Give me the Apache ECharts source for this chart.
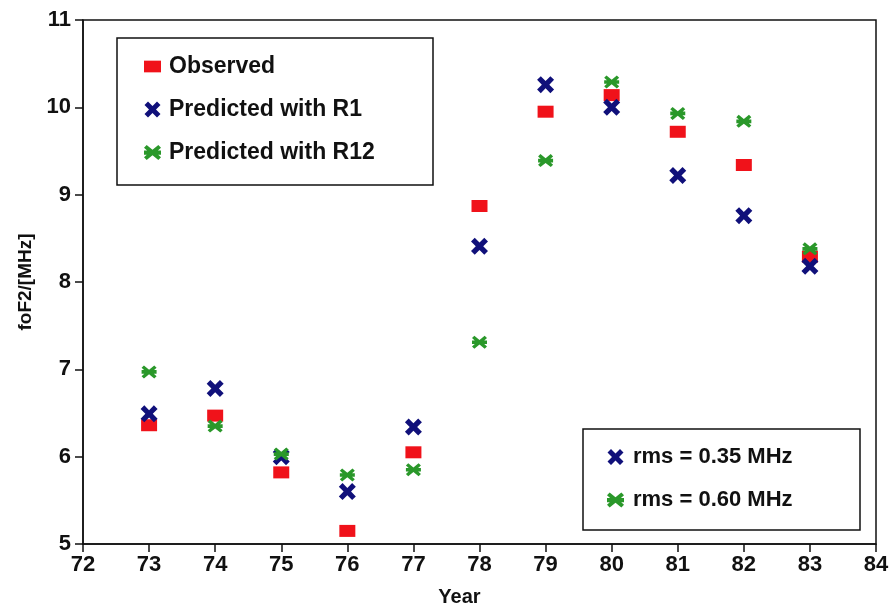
<!DOCTYPE html>
<html>
<head>
<meta charset="utf-8">
<script src="https://cdn.jsdelivr.net/npm/echarts@6/dist/echarts.min.js"></script>
<style>
  html, body { margin: 0; padding: 0; background: #fff; }
  #chart { width: 890px; height: 605px; }
</style>
</head>
<body>
<div id="chart"></div>
<script>
// Yearly foF2 values (years 19xx)
const years = [73, 74, 75, 76, 77, 78, 79, 80, 81, 82, 83];
const observed = [6.36, 6.47, 5.82, 5.15, 6.05, 8.87, 9.95, 10.14, 9.72, 9.34, 8.29];
const predictedR1 = [6.49, 6.78, 6.00, 5.60, 6.34, 8.41, 10.26, 10.00, 9.22, 8.76, 8.18];
const predictedR12 = [6.97, 6.35, 6.03, 5.79, 5.85, 7.31, 9.39, 10.29, 9.93, 9.84, 8.38];

const xTicks = [72, 73, 74, 75, 76, 77, 78, 79, 80, 81, 82, 83, 84];
const yTicks = [5, 6, 7, 8, 9, 10, 11];

const seriesNames = ['Observed', 'Predicted with R1', 'Predicted with R12'];
const rmsNames = ['rms = 0.35 MHz', 'rms = 0.60 MHz'];

const RED = '#f0121a';
const BLUE = '#10107a';
const GREEN = '#2a982a';

// flat rectangle used for the observed marker in the legend
const boxPath = 'path://M0,0 L16,0 L16,11 L0,11 Z';
// thick diagonal cross
const crossPath = 'path://M0,3.5 L3.5,0 L8,4.5 L12.5,0 L16,3.5 L11.5,8 L16,12.5 L12.5,16 L8,11.5 L3.5,16 L0,12.5 L4.5,8 Z';
// asterisk: diagonal cross with a horizontal bar
const starPath = 'path://M0,2.5 L2.5,0 L8,4.5 L13.5,0 L16,2.5 L11,7 L16,11.5 L13.5,14 L8,9.5 L2.5,14 L0,11.5 L5,7 Z M0,5 L16,5 L16,9 L0,9 Z';

const pairs = vals => years.map((y, i) => [y, vals[i]]);
const font = '"Liberation Sans", Arial, Helvetica, sans-serif';
const INK = '#111';

const chart = echarts.init(document.getElementById('chart'));
chart.setOption({
  animation: false,
  backgroundColor: '#fff',
  grid: {
    left: 83, right: 14, top: 20, bottom: 61,
    outerBoundsMode: 'none', containLabel: false,
    show: true, borderColor: INK, borderWidth: 1.5, backgroundColor: 'transparent'
  },
  xAxis: {
    type: 'value', min: xTicks[0], max: xTicks[xTicks.length - 1], interval: 1,
    name: 'Year', nameLocation: 'middle', nameGap: 43,
    nameTextStyle: { fontFamily: font, fontWeight: 'bold', fontSize: 20, color: INK, padding: [0, 40, 0, 0] },
    axisLine: { show: true, lineStyle: { color: INK, width: 1.5 } },
    axisTick: { show: true, inside: false, length: 8, lineStyle: { color: INK, width: 1.5 } },
    axisLabel: { fontFamily: font, fontWeight: 'bold', fontSize: 22, color: INK, margin: 10 },
    splitLine: { show: false }
  },
  yAxis: {
    type: 'value', min: yTicks[0], max: yTicks[yTicks.length - 1], interval: 1,
    name: 'foF2/[MHz]', nameLocation: 'middle', nameGap: 48, nameRotate: 90,
    nameTextStyle: { fontFamily: font, fontWeight: 'bold', fontSize: 19, color: INK },
    axisLine: { show: true, lineStyle: { color: INK, width: 1.5 } },
    axisTick: { show: true, inside: false, length: 8, lineStyle: { color: INK, width: 1.5 } },
    axisLabel: { fontFamily: font, fontWeight: 'bold', fontSize: 22, color: INK, margin: 12 },
    splitLine: { show: false }
  },
  legend: [
    {
      data: [
        { name: seriesNames[0], icon: boxPath },
        { name: seriesNames[1] },
        { name: seriesNames[2] }
      ],
      orient: 'vertical', left: 139, top: 50,
      itemWidth: 17, itemHeight: 16, itemGap: 20,
      textStyle: { fontFamily: font, fontWeight: 'bold', fontSize: 23, color: INK, padding: [0, 0, 0, 3] },
      selectedMode: false
    },
    {
      data: rmsNames.map(n => ({ name: n })),
      orient: 'vertical', left: 602, top: 441,
      itemWidth: 17, itemHeight: 16, itemGap: 21,
      textStyle: { fontFamily: font, fontWeight: 'bold', fontSize: 22, color: INK, padding: [0, 0, 0, 4] },
      selectedMode: false
    }
  ],
  graphic: [
    { type: 'rect', shape: { x: 117, y: 38, width: 316, height: 147 }, style: { fill: 'none', stroke: INK, lineWidth: 1.5 }, z: 1 },
    { type: 'rect', shape: { x: 583, y: 429, width: 277, height: 101 }, style: { fill: 'none', stroke: INK, lineWidth: 1.5 }, z: 1 }
  ],
  series: [
    { name: seriesNames[0], type: 'scatter', data: pairs(observed), symbol: 'rect', symbolSize: [16, 12], itemStyle: { color: RED, opacity: 1 } },
    { name: seriesNames[1], type: 'scatter', data: pairs(predictedR1), symbol: crossPath, symbolSize: 17, itemStyle: { color: BLUE, opacity: 1 } },
    { name: seriesNames[2], type: 'scatter', data: pairs(predictedR12), symbol: starPath, symbolSize: [15, 13], itemStyle: { color: GREEN, opacity: 1 } },
    { name: rmsNames[0], type: 'scatter', data: [], symbol: crossPath, itemStyle: { color: BLUE, opacity: 1 } },
    { name: rmsNames[1], type: 'scatter', data: [], symbol: starPath, itemStyle: { color: GREEN, opacity: 1 } }
  ]
});
</script>
</body>
</html>
